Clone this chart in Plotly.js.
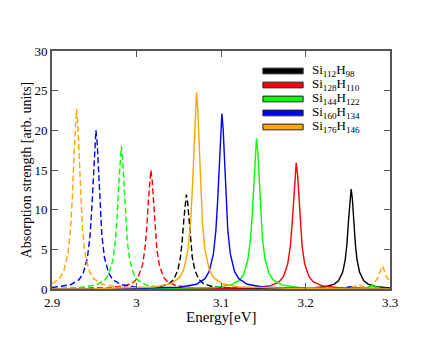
<!DOCTYPE html>
<html>
<head>
<meta charset="utf-8">
<script src="https://cdn.plot.ly/plotly-3.0.1.min.js"></script>
<style>
  body { margin: 0; padding: 0; background: #fff; }
  #chart { width: 440px; height: 340px; }
</style>
</head>
<body>
<div id="chart"></div>
<script>
/*
 * Absorption spectra of Si nanocrystals (solid and dashed curves per size)
 * Values.
 */
var seriesNames = ['Si<sub>112</sub>H<sub>98</sub>', 'Si<sub>128</sub>H<sub>110</sub>',
  'Si<sub>144</sub>H<sub>122</sub>', 'Si<sub>160</sub>H<sub>134</sub>', 'Si<sub>176</sub>H<sub>146</sub>'];
var seriesColors = ['#000000', '#ff0000', '#00ff00', '#0000ff', '#ffa500'];

//Si112H98
var blackSolidX = [2.9, 3.1, 3.204, 3.224, 3.234, 3.239, 3.244, 3.247, 3.249, 3.251, 3.2525, 3.254, 3.2555, 3.257, 3.259, 3.261, 3.264, 3.269, 3.274, 3.284, 3.3];
var blackSolidY = [0, 0.01, 0.10, 0.28, 0.61, 1.04, 2.12, 3.68, 5.64, 8.72, 11.34, 12.6, 11.34, 8.72, 5.64, 3.68, 2.12, 1.04, 0.61, 0.28, 0.12];
var blackDashX = [2.9, 3.009, 3.029, 3.039, 3.044, 3.049, 3.052, 3.054, 3.056, 3.0575, 3.059, 3.0605, 3.062, 3.064, 3.066, 3.069, 3.074, 3.079, 3.089, 3.109, 3.2, 3.3];
var blackDashY = [0.01, 0.12, 0.32, 0.70, 1.19, 2.38, 4.02, 5.95, 8.75, 10.91, 11.9, 10.91, 8.75, 5.95, 4.02, 2.38, 1.19, 0.70, 0.32, 0.12, 0.02, 0];

//Si128H110
var redSolidX = [2.9, 3.05, 3.139, 3.159, 3.169, 3.174, 3.179, 3.182, 3.184, 3.186, 3.1875, 3.189, 3.1905, 3.192, 3.194, 3.196, 3.199, 3.204, 3.209, 3.219, 3.239, 3.3];
var redSolidY = [0, 0.02, 0.16, 0.43, 0.93, 1.59, 3.18, 5.37, 7.95, 11.69, 14.58, 15.9, 14.58, 11.69, 7.95, 5.37, 3.18, 1.59, 0.93, 0.43, 0.16, 0.03];
var redDashX = [2.9, 2.967, 2.987, 2.997, 3.002, 3.007, 3.010, 3.012, 3.014, 3.0155, 3.017, 3.0185, 3.020, 3.022, 3.024, 3.027, 3.032, 3.037, 3.047, 3.067, 3.15, 3.3];
var redDashY = [0.03, 0.15, 0.41, 0.88, 1.5, 3.0, 5.07, 7.5, 11.03, 13.76, 15.0, 13.76, 11.03, 7.5, 5.07, 3.0, 1.5, 0.88, 0.41, 0.15, 0.02, 0];

//Si144H122
var greenSolidX = [2.9, 3.0, 3.092, 3.112, 3.122, 3.127, 3.132, 3.135, 3.137, 3.139, 3.1405, 3.142, 3.1435, 3.145, 3.147, 3.149, 3.152, 3.157, 3.162, 3.172, 3.192, 3.25, 3.272, 3.277, 3.280, 3.283, 3.288, 3.3];
var greenSolidY = [0, 0.02, 0.19, 0.51, 1.12, 1.9, 3.8, 6.42, 9.5, 13.97, 17.42, 19.0, 17.42, 13.97, 9.5, 6.42, 3.8, 1.9, 1.12, 0.51, 0.19, 0.05, 0.1, 0.3, 0.5, 0.3, 0.1, 0.03];
var greenDashX = [2.9, 2.932, 2.952, 2.962, 2.967, 2.972, 2.975, 2.977, 2.979, 2.9805, 2.982, 2.9835, 2.985, 2.987, 2.989, 2.992, 2.997, 3.002, 3.012, 3.032, 3.1, 3.3];
var greenDashY = [0.07, 0.18, 0.49, 1.06, 1.8, 3.6, 6.08, 9.0, 13.23, 16.51, 18.0, 16.51, 13.23, 9.0, 6.08, 3.6, 1.8, 1.06, 0.49, 0.18, 0.03, 0];

//Si160H134
var blueSolidX = [2.9, 2.98, 3.051, 3.071, 3.081, 3.086, 3.091, 3.094, 3.096, 3.098, 3.0995, 3.101, 3.1025, 3.104, 3.106, 3.108, 3.111, 3.116, 3.121, 3.131, 3.151, 3.2, 3.3];
var blueSolidY = [0.01, 0.04, 0.22, 0.60, 1.30, 2.21, 4.42, 7.47, 11.05, 16.24, 20.27, 22.1, 20.27, 16.24, 11.05, 7.47, 4.42, 2.21, 1.30, 0.60, 0.22, 0.06, 0.01];
var blueDashX = [2.9, 2.922, 2.932, 2.937, 2.942, 2.945, 2.947, 2.949, 2.9505, 2.952, 2.9535, 2.955, 2.957, 2.959, 2.962, 2.967, 2.972, 2.982, 3.002, 3.07, 3.2, 3.245, 3.253, 3.261, 3.3];
var blueDashY = [0.18, 0.54, 1.18, 2.0, 4.0, 6.76, 10.0, 14.7, 18.34, 20.0, 18.34, 14.7, 10.0, 6.76, 4.0, 2.0, 1.18, 0.54, 0.2, 0.04, 0.01, 0.1, 0.3, 0.1, 0.02];

//Si176H146
var orangeSolidX = [2.9, 2.95, 3.021, 3.041, 3.051, 3.056, 3.061, 3.064, 3.066, 3.068, 3.0695, 3.071, 3.0725, 3.074, 3.076, 3.078, 3.081, 3.086, 3.091, 3.101, 3.121, 3.2, 3.3];
var orangeSolidY = [0.02, 0.04, 0.25, 0.67, 1.46, 2.48, 4.96, 8.38, 12.4, 18.23, 22.74, 24.8, 22.74, 18.23, 12.4, 8.38, 4.96, 2.48, 1.46, 0.67, 0.25, 0.04, 0.01];
var orangeDashX = [2.9, 2.909, 2.914, 2.919, 2.922, 2.924, 2.926, 2.9275, 2.929, 2.9305, 2.932, 2.934, 2.936, 2.939, 2.944, 2.949, 2.959, 2.979, 3.05, 3.2, 3.25, 3.258, 3.263, 3.268, 3.275, 3.281, 3.286, 3.289, 3.291, 3.293, 3.296, 3.3];
var orangeDashY = [0.66, 1.33, 2.27, 4.54, 7.67, 11.35, 16.68, 20.82, 22.7, 20.82, 16.68, 11.35, 7.67, 4.54, 2.27, 1.33, 0.61, 0.22, 0.04, 0.01, 0.05, 0.3, 0.6, 0.3, 0.3, 0.7, 1.5, 2.4, 2.9, 2.4, 1.5, 1.0];

var xTicks = [2.9, 3.0, 3.1, 3.2, 3.3];
var xTickText = ['2.9', '3', '3.1', '3.2', '3.3'];

/*
 * Build one line trace
*/
function makeCurve(x, y, color, dashed) {
  return {
    x: x,
    y: y,
    mode: 'lines',
    type: 'scatter',
    showlegend: false,
    hoverinfo: 'skip',
    line: {
      color: color,
      width: 1.4,
      dash: dashed ? '6px,3px' : 'solid'
    }
  };
}

/*
 * Legend drawn by hand: coloured boxes + labels inside plot
*/
function makeLegend() {
  var shapes = [];
  var annotations = [];
  var top = 0.916;
  var step = 0.0588;
  for (var i = 0; i < seriesNames.length; i++) {
    var yc = top - i * step;
    shapes.push({
      type: 'rect', xref: 'paper', yref: 'paper',
      x0: 0.624, x1: 0.743, y0: yc - 0.012, y1: yc + 0.012,
      fillcolor: seriesColors[i],
      line: {color: '#222', width: 1}
    });
    annotations.push({
      xref: 'paper', yref: 'paper', x: 0.762, y: yc,
      xanchor: 'left', yanchor: 'middle', showarrow: false,
      text: seriesNames[i],
      font: {family: 'Liberation Serif, serif', size: 13, color: '#000'}
    });
  }
  //x axis title, placed a bit closer to the tick labels than plotly allows
  annotations.push({
    xref: 'paper', yref: 'paper', x: 0.5, y: -0.117,
    xanchor: 'center', yanchor: 'middle', showarrow: false,
    text: 'Energy[eV]',
    font: {family: 'Liberation Serif, serif', size: 15, color: '#000'}
  });
  return {shapes: shapes, annotations: annotations};
}

function plotSpectra() {
  var data = [
    makeCurve(blackDashX, blackDashY, seriesColors[0], true),
    makeCurve(redDashX, redDashY, seriesColors[1], true),
    makeCurve(greenDashX, greenDashY, seriesColors[2], true),
    makeCurve(blueDashX, blueDashY, seriesColors[3], true),
    makeCurve(orangeDashX, orangeDashY, seriesColors[4], true),
    makeCurve(blackSolidX, blackSolidY, seriesColors[0], false),
    makeCurve(redSolidX, redSolidY, seriesColors[1], false),
    makeCurve(greenSolidX, greenSolidY, seriesColors[2], false),
    makeCurve(blueSolidX, blueSolidY, seriesColors[3], false),
    makeCurve(orangeSolidX, orangeSolidY, seriesColors[4], false)
  ];
  var legend = makeLegend();
  var axisFont = {family: 'Liberation Serif, serif', size: 13, color: '#000'};
  var layout = {
    width: 440,
    height: 340,
    margin: {l: 52, r: 50, t: 51, b: 51},
    paper_bgcolor: '#fff',
    plot_bgcolor: '#fff',
    showlegend: false,
    font: {family: 'Liberation Serif, serif', color: '#000'},
    xaxis: {
      range: [2.9, 3.3],
      tickvals: xTicks,
      ticktext: xTickText,
      ticks: 'inside',
      ticklen: 6,
      tickcolor: '#555',
      tickwidth: 1,
      showline: true,
      linecolor: '#555',
      linewidth: 2,
      mirror: 'ticks',
      showgrid: false,
      zeroline: false,
      automargin: false,
      tickfont: axisFont
    },
    yaxis: {
      range: [0, 30],
      dtick: 5,
      ticks: 'inside',
      ticklen: 6,
      tickcolor: '#555',
      tickwidth: 1,
      showline: true,
      linecolor: '#555',
      linewidth: 2,
      mirror: 'ticks',
      showgrid: false,
      zeroline: false,
      automargin: false,
      tickfont: axisFont,
      title: {text: 'Absorption strength [arb. units]', font: {family: 'Liberation Serif, serif', size: 14, color: '#000'}, standoff: 0}
    },
    shapes: legend.shapes,
    annotations: legend.annotations
  };
  Plotly.newPlot('chart', data, layout, {staticPlot: true});
}

plotSpectra();
</script>
</body>
</html>
